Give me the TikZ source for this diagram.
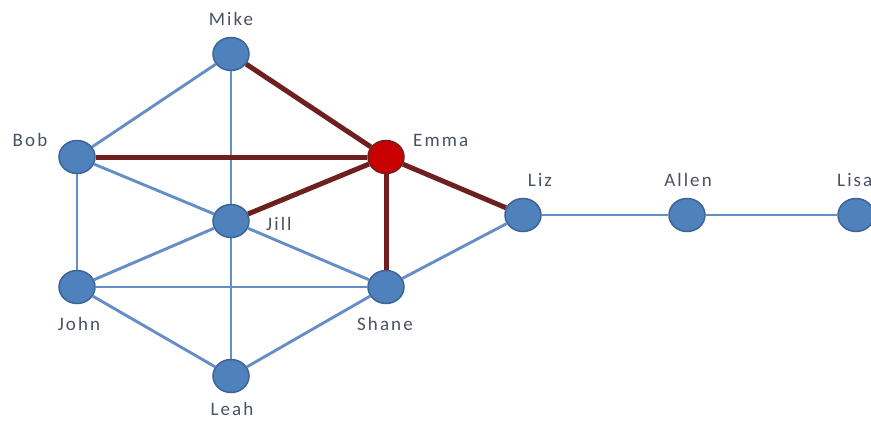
\documentclass[tikz,border=0pt]{standalone}
\usepackage{fontspec}
\setmainfont[LetterSpace=11]{Carlito}
\usetikzlibrary{shapes.geometric}

\definecolor{nodeblue}{RGB}{79,129,189}
\definecolor{nodeborder}{RGB}{60,100,150}
\definecolor{edgeblue}{RGB}{100,143,198}
\definecolor{pathred}{RGB}{110,32,32}
\definecolor{emmared}{RGB}{200,0,0}
\definecolor{labelgray}{RGB}{72,82,98}

\begin{document}
\begin{tikzpicture}[x=1pt,y=-1pt,
    person/.style={ellipse,draw=nodeborder,fill=nodeblue,line width=1.5pt,
      minimum width=36pt,minimum height=33pt,inner sep=0pt},
    chosen/.style={person,draw=pathred,fill=emmared},
    name text/.style={text=labelgray,font=\fontsize{19}{21}\selectfont,inner sep=0pt},
    link/.style={draw=edgeblue,line width=2.9pt},
    redlink/.style={draw=pathred,line width=5pt}]

    % Frame
    \useasboundingbox (0,0) rectangle (871,421);
    \clip (0,0) rectangle (871,421);

    % People
    \node[person] (mike) at (231,54) {};
    \node[person] (bob) at (77,157) {};
    \node[chosen] (emma) at (386,157) {};
    \node[person] (jill) at (231,221) {};
    \node[person] (liz) at (523,215) {};
    \node[person] (allen) at (687,215) {};
    \node[person] (lisa) at (856,215) {};
    \node[person] (john) at (77,287) {};
    \node[person] (shane) at (386,287) {};
    \node[person] (leah) at (231,376) {};

    % Names
    \node[name text] (mikeName) at (231,19) {Mike};
    \node[name text] (bobName) at (30,140) {Bob};
    \node[name text,anchor=west] (emmaName) at (413,140) {Emma};
    \node[name text,anchor=west] (jillName) at (266,224) {Jill};
    \node[name text] (lizName) at (540,180) {Liz};
    \node[name text] (allenName) at (688,180) {Allen};
    \node[name text,anchor=west] (lisaName) at (837,180) {Lisa};
    \node[name text] (johnName) at (79,324) {John};
    \node[name text] (shaneName) at (385,324) {Shane};
    \node[name text] (leahName) at (232,409) {Leah};

    % Friendships
    \draw[link] (mike) -- (bob);
    \draw[link] (mike) -- (jill);
    \draw[link] (bob) -- (jill);
    \draw[link] (bob) -- (john);
    \draw[link] (jill) -- (john);
    \draw[link] (jill) -- (shane);
    \draw[link] (jill) -- (leah);
    \draw[link] (john) -- (shane);
    \draw[link] (john) -- (leah);
    \draw[link] (shane) -- (leah);
    \draw[link] (shane) -- (liz);
    \draw[link] (liz) -- (allen);
    \draw[link] (allen) -- (lisa);

    % Emma's ties
    \draw[redlink] (emma) -- (mike);
    \draw[redlink] (emma) -- (bob);
    \draw[redlink] (emma) -- (jill);
    \draw[redlink] (emma) -- (shane);
    \draw[redlink] (emma) -- (liz);
\end{tikzpicture}
\end{document}
